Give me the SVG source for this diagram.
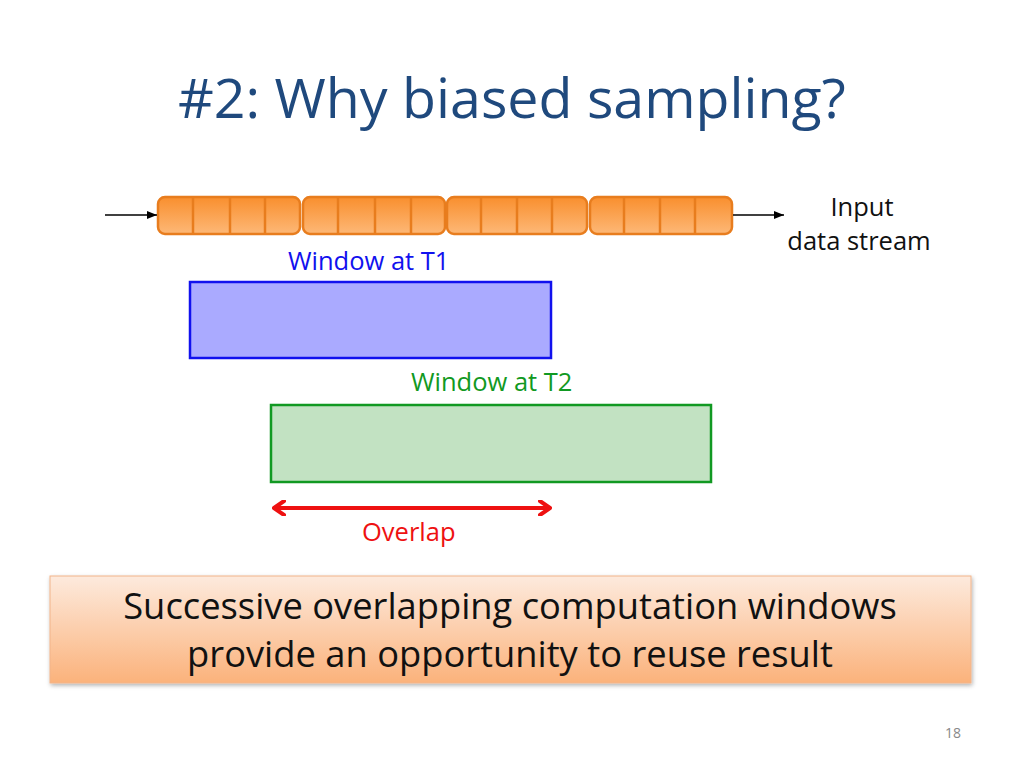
<svg xmlns="http://www.w3.org/2000/svg" width="1024" height="768" viewBox="0 0 1024 768">
<style>
text{font-family:"Open Sans","Liberation Sans",sans-serif}
.title{font-size:55.5px;fill:#1f497d}
.lbl{font-size:25.5px}
.cell{fill:url(#og);stroke:#e87d1e;stroke-width:2.5}
.div{stroke:#e87d1e;stroke-width:2.5}
.big{font-size:36.3px;fill:#111}
</style>
<defs>
<linearGradient id="og" x1="0" y1="0" x2="0" y2="1">
<stop offset="0" stop-color="#f98f2e"/>
<stop offset="1" stop-color="#fdb877"/>
</linearGradient>
<linearGradient id="bg" x1="0" y1="0" x2="0" y2="1">
<stop offset="0" stop-color="#fdeadd"/>
<stop offset="1" stop-color="#fbb27b"/>
</linearGradient>
<marker id="ah" markerWidth="10" markerHeight="8" refX="10" refY="4" orient="auto" markerUnits="userSpaceOnUse">
<path d="M0,0 L10,4 L0,8 Z" fill="#000"/>
</marker>
<marker id="rh" markerWidth="14" markerHeight="16" refX="12" refY="8" orient="auto-start-reverse" markerUnits="userSpaceOnUse">
<path d="M2,1 L12,8 L2,15" fill="none" stroke="#ee1111" stroke-width="4" stroke-linecap="round" stroke-linejoin="round"/>
</marker>
<filter id="sh" x="-5%" y="-10%" width="110%" height="130%">
<feDropShadow dx="1" dy="2" stdDeviation="2" flood-color="#000" flood-opacity="0.3"/>
</filter>
</defs>
<rect width="1024" height="768" fill="#fff"/>
<text class="title" x="178" y="118">#2: Why biased sampling?</text>

<g id="stream">
<rect class="cell" x="158" y="197" width="142" height="37" rx="7"/>
<line class="div" x1="193" y1="197" x2="193" y2="234"/>
<line class="div" x1="230" y1="197" x2="230" y2="234"/>
<line class="div" x1="265" y1="197" x2="265" y2="234"/>
<rect class="cell" x="303" y="197" width="142" height="37" rx="7"/>
<line class="div" x1="338" y1="197" x2="338" y2="234"/>
<line class="div" x1="375" y1="197" x2="375" y2="234"/>
<line class="div" x1="411" y1="197" x2="411" y2="234"/>
<rect class="cell" x="447" y="197" width="140" height="37" rx="7"/>
<line class="div" x1="481" y1="197" x2="481" y2="234"/>
<line class="div" x1="517" y1="197" x2="517" y2="234"/>
<line class="div" x1="552" y1="197" x2="552" y2="234"/>
<rect class="cell" x="590" y="197" width="142" height="37" rx="7"/>
<line class="div" x1="624" y1="197" x2="624" y2="234"/>
<line class="div" x1="660" y1="197" x2="660" y2="234"/>
<line class="div" x1="695" y1="197" x2="695" y2="234"/>
</g>
<g id="input-label">
<text class="lbl" x="862" y="216" text-anchor="middle" fill="#111">Input</text>
<text class="lbl" x="859" y="250" text-anchor="middle" fill="#111">data stream</text>
</g>

<g id="window1">
<text class="lbl" x="288" y="270" fill="#1111ee">Window at T1</text>
<rect x="190" y="282" width="361" height="76" fill="#aaaaff" stroke="#1111ee" stroke-width="2.5"/>
</g>
<g id="window2">
<text class="lbl" x="411" y="391" fill="#119922">Window at T2</text>
<rect x="271" y="405" width="440" height="77" fill="#c2e2c2" stroke="#119922" stroke-width="2.5"/>
</g>
<g id="overlap">
<text class="lbl" x="362" y="541" fill="#ee1111">Overlap</text>
</g>

<g id="connectors">
<line x1="105" y1="215" x2="157" y2="215" stroke="#000" stroke-width="1.5" marker-end="url(#ah)"/>
<line x1="733" y1="215" x2="784" y2="215" stroke="#000" stroke-width="1.5" marker-end="url(#ah)"/>
<line x1="274" y1="508" x2="550" y2="508" stroke="#ee1111" stroke-width="4" marker-start="url(#rh)" marker-end="url(#rh)"/>
</g>

<g id="summary">
<rect x="50" y="576" width="921" height="107" fill="url(#bg)" stroke="#f2b48a" stroke-width="1" filter="url(#sh)"/>
<text class="big" x="510" y="619" text-anchor="middle">Successive overlapping computation windows</text>
<text class="big" x="510" y="667" text-anchor="middle">provide an opportunity to reuse result</text>
</g>
<text x="953" y="738" text-anchor="middle" font-size="14" fill="#888">18</text>
</svg>
